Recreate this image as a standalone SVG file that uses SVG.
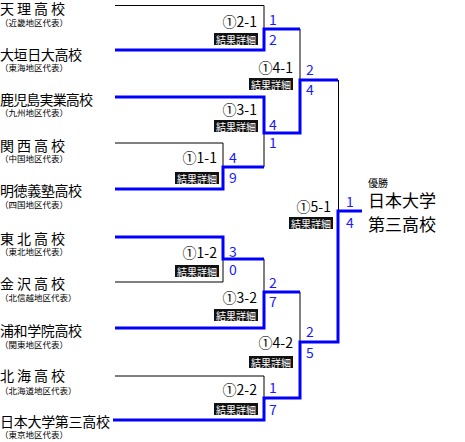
<svg xmlns="http://www.w3.org/2000/svg" width="465" height="442" viewBox="0 0 465 442">
<style>
text{font-family:"Noto Sans CJK JP","Noto Sans",sans-serif;}
.nm{font-size:14px;fill:#000;}
.sub{font-size:8.5px;fill:#000;}
.lbl{font-size:14px;fill:#000;text-anchor:end;}
.box{fill:#111;}
.bt{font-size:10px;fill:#fff;text-anchor:middle;}
.sc{font-size:14px;fill:#1a1aff;}
.lose{fill:none;stroke:#000;stroke-width:1;}
.win{fill:none;stroke:#0000ff;stroke-width:3;}
</style>
<rect width="465" height="442" fill="#fff"/>
<g id="connectors">
<path class="lose" d="M115,5.5 H264 V29"/>
<path class="lose" d="M300,29 V80"/>
<path class="lose" d="M115,143 H223 V167"/>
<path class="lose" d="M264,167 V133"/>
<path class="lose" d="M338.5,80 V211"/>
<path class="lose" d="M115,282 H223 V259"/>
<path class="lose" d="M264,259 V292"/>
<path class="lose" d="M300,292 V342"/>
<path class="lose" d="M115,376 H264 V398"/>
<path class="win" d="M115,50 H264 V29 H300"/>
<path class="win" d="M115,97 H264 V133 H300 V80 H338"/>
<path class="win" d="M115,189 H223 V167 H264"/>
<path class="win" d="M115,237 H223 V259 H264"/>
<path class="win" d="M115,328 H264 V292 H300"/>
<path class="win" d="M113,420 H264 V398 H300 V342 H338 V211 H362"/>
</g>
<g id="team-tenri"><text class="nm" x="0" y="14" textLength="65" lengthAdjust="spacing">天理高校</text><text class="sub" x="0" y="26">（近畿地区代表）</text></g>
<g id="team-ogakinichidai"><text class="nm" x="0" y="60" textLength="82" lengthAdjust="spacing">大垣日大高校</text><text class="sub" x="0" y="71">（東海地区代表）</text></g>
<g id="team-kagoshimajitsugyo"><text class="nm" x="0" y="105" textLength="93" lengthAdjust="spacing">鹿児島実業高校</text><text class="sub" x="0" y="116">（九州地区代表）</text></g>
<g id="team-kansai"><text class="nm" x="0" y="151" textLength="65" lengthAdjust="spacing">関西高校</text><text class="sub" x="0" y="162">（中国地区代表）</text></g>
<g id="team-meitokugijuku"><text class="nm" x="0" y="196" textLength="82" lengthAdjust="spacing">明徳義塾高校</text><text class="sub" x="0" y="208">（四国地区代表）</text></g>
<g id="team-tohoku"><text class="nm" x="0" y="244" textLength="65" lengthAdjust="spacing">東北高校</text><text class="sub" x="0" y="255">（東北地区代表）</text></g>
<g id="team-kanazawa"><text class="nm" x="0" y="289" textLength="65" lengthAdjust="spacing">金沢高校</text><text class="sub" x="0" y="301">（北信越地区代表）</text></g>
<g id="team-urawagakuin"><text class="nm" x="0" y="336" textLength="82" lengthAdjust="spacing">浦和学院高校</text><text class="sub" x="0" y="348">（関東地区代表）</text></g>
<g id="team-hokkai"><text class="nm" x="0" y="381" textLength="65" lengthAdjust="spacing">北海高校</text><text class="sub" x="0" y="394">（北海道地区代表）</text></g>
<g id="team-nichidaisan"><text class="nm" x="0" y="427" textLength="110" lengthAdjust="spacing">日本大学第三高校</text><text class="sub" x="0" y="438">（東京地区代表）</text></g>
<g id="match-2-1"><text class="lbl" x="257" y="27">①2-1</text><rect class="box" x="214" y="33" width="44" height="12"/><text class="bt" x="236" y="43.5">結果詳細</text><text class="sc" x="269" y="25">1</text><text class="sc" x="269" y="45">2</text></g>
<g id="match-4-1"><text class="lbl" x="293" y="73">①4-1</text><rect class="box" x="249" y="78" width="44" height="12"/><text class="bt" x="271" y="88.5">結果詳細</text><text class="sc" x="306" y="75">2</text><text class="sc" x="306" y="95">4</text></g>
<g id="match-3-1"><text class="lbl" x="257" y="115">①3-1</text><rect class="box" x="214" y="120" width="44" height="12"/><text class="bt" x="236" y="130.5">結果詳細</text><text class="sc" x="269" y="130">4</text><text class="sc" x="269" y="148">1</text></g>
<g id="match-1-1"><text class="lbl" x="217" y="163">①1-1</text><rect class="box" x="175" y="172" width="44" height="12"/><text class="bt" x="197" y="182.5">結果詳細</text><text class="sc" x="229" y="163">4</text><text class="sc" x="229" y="183">9</text></g>
<g id="match-5-1"><text class="lbl" x="331" y="212">①5-1</text><rect class="box" x="289" y="217" width="44" height="12"/><text class="bt" x="311" y="227.5">結果詳細</text><text class="sc" x="346" y="207">1</text><text class="sc" x="346" y="228">4</text></g>
<g id="match-1-2"><text class="lbl" x="217" y="258">①1-2</text><rect class="box" x="175" y="265" width="44" height="12"/><text class="bt" x="197" y="275.5">結果詳細</text><text class="sc" x="229" y="257">3</text><text class="sc" x="229" y="275">0</text></g>
<g id="match-3-2"><text class="lbl" x="257" y="303">①3-2</text><rect class="box" x="214" y="309" width="44" height="12"/><text class="bt" x="236" y="319.5">結果詳細</text><text class="sc" x="269" y="288">2</text><text class="sc" x="269" y="307">7</text></g>
<g id="match-4-2"><text class="lbl" x="293" y="348">①4-2</text><rect class="box" x="249" y="356" width="44" height="12"/><text class="bt" x="271" y="366.5">結果詳細</text><text class="sc" x="306" y="337">2</text><text class="sc" x="306" y="358">5</text></g>
<g id="match-2-2"><text class="lbl" x="257" y="395">①2-2</text><rect class="box" x="214" y="403" width="44" height="12"/><text class="bt" x="236" y="413.5">結果詳細</text><text class="sc" x="269" y="393">1</text><text class="sc" x="269" y="415">7</text></g>
<g id="champion"><text x="368" y="187" font-size="10">優勝</text><text x="368" y="207" font-size="17">日本大学</text><text x="368" y="231" font-size="17">第三高校</text></g>
</svg>
